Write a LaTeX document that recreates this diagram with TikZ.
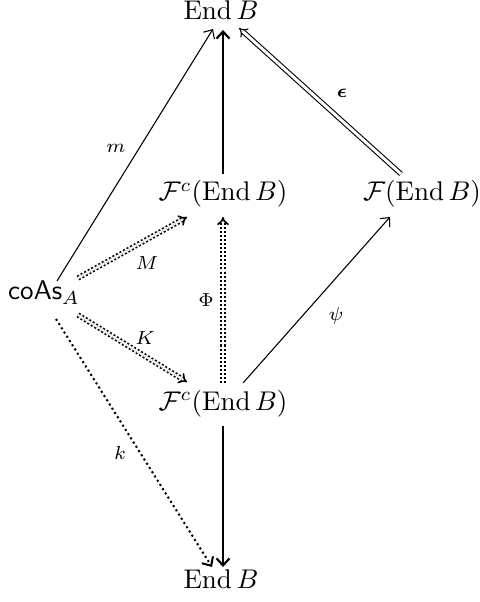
\documentclass[tikz,border=0pt]{standalone}
\usepackage{amsmath,amssymb}
\usetikzlibrary{arrows.meta}
\tikzset{
  obj/.style={anchor=base,inner sep=0pt},
  lab/.style={inner sep=0pt,font=\scriptsize},
  tip/.style={-{Straight Barb[length=2.6pt,width=4.8pt]}},
  thinarr/.style={tip,line width=0.4pt},
  thickarr/.style={tip,line width=0.8pt},
  dotarr/.style={tip,line width=0.75pt,dash pattern=on 0.75pt off 1.1pt},
  ddotarr/.style={-{Implies},line width=0.6pt,double,double distance=0.8pt,dash pattern=on 0.75pt off 0.75pt},
  dblarr/.style={-{Implies},line width=0.4pt,double,double distance=1.1pt}
}
\begin{document}
\begin{tikzpicture}[x=0.37pt,y=-0.37pt]
\useasboundingbox (0,0) rectangle (480,602);
\node[obj] (top) at (221,20) {$\mathrm{End}\,B$};
\node[obj] (Fu) at (223,201) {$\mathcal{F}^c(\mathrm{End}\,B)$};
\node[obj] (Fr) at (422,201) {$\mathcal{F}(\mathrm{End}\,B)$};
\node[obj] (co) at (44,300) {$\mathsf{coAs}_A$};
\node[obj] (Fl) at (223,410) {$\mathcal{F}^c(\mathrm{End}\,B)$};
\node[obj] (bot) at (221,588) {$\mathrm{End}\,B$};

\draw[thinarr] ([shift={(13,-19)}]co.base) -- ([shift={(-8,9)}]top.base);
\draw[thickarr] ([shift={(0,-27)}]Fu.base) -- ([shift={(2,10)}]top.base);
\draw[dblarr] ([shift={(-21,-27)}]Fr.base) -- ([shift={(18,8)}]top.base);
\draw[ddotarr] ([shift={(34,-22)}]co.base) -- ([shift={(-36,16)}]Fu.base);
\draw[ddotarr] ([shift={(0,-27)}]Fl.base) -- ([shift={(0,16)}]Fu.base);
\draw[ddotarr] ([shift={(34,15)}]co.base) -- ([shift={(-36,-28)}]Fl.base);
\draw[thinarr] ([shift={(20,-27)}]Fl.base) -- ([shift={(-32,16)}]Fr.base);
\draw[dotarr] ([shift={(12,19)}]co.base) -- ([shift={(-9,-21)}]bot.base);
\draw[thickarr] ([shift={(0,16)}]Fl.base) -- ([shift={(2,-21)}]bot.base);

\node[lab] (lm) at (116,148) {$m$};
\node[lab] (le) at (342,93) {$\boldsymbol{\epsilon}$};
\node[lab] (lM) at (147,263) {$M$};
\node[lab] (lP) at (206,300) {$\Phi$};
\node[lab] (lK) at (145,338) {$K$};
\node[lab] (lpsi) at (336,316) {$\psi$};
\node[lab] (lk) at (120,453) {$k$};
\end{tikzpicture}
\end{document}
